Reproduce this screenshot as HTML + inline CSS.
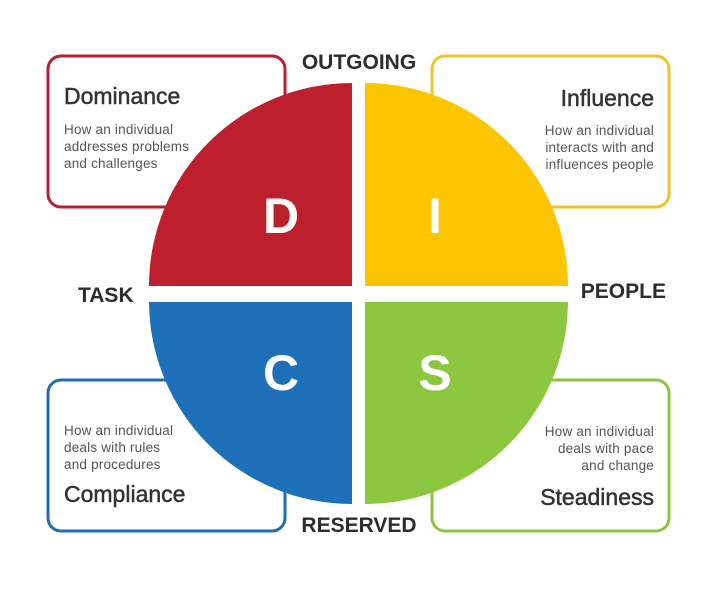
<!DOCTYPE html>
<html><head><meta charset="utf-8"><style>
html,body{margin:0;padding:0;background:#fff;}
svg{display:block;}
text{font-family:"Liberation Sans",sans-serif;}
</style></head><body>
<svg width="720" height="591" viewBox="0 0 720 591">
<rect x="0" y="0" width="720" height="591" fill="#fff"/>
<g fill="none" stroke-width="3">
<rect x="48" y="56" width="237" height="151" rx="13" stroke="#b81f35"/>
<rect x="432" y="56" width="237" height="151" rx="13" stroke="#f2c22a"/>
<rect x="48" y="380" width="237" height="151" rx="13" stroke="#1f6db5"/>
<rect x="432" y="380" width="237" height="151" rx="13" stroke="#8cc53f"/>
</g>
<path d="M352,286 L149,286 A203,203 0 0 1 352,83 Z" fill="#bd1f2d"/>
<path d="M365,286 L365,83 A203,203 0 0 1 568,286 Z" fill="#fdc500"/>
<path d="M352,302 L352,504 A203,203 0 0 1 149,302 Z" fill="#1e70b9"/>
<path d="M365,302 L568,302 A203,203 0 0 1 365,504 Z" fill="#8dc63f"/>
<g fill="#fff" font-weight="bold" font-size="50" text-anchor="middle">
<text x="281" y="233">D</text>
<text x="435" y="233">I</text>
<text x="281" y="390">C</text>
<text x="435" y="390">S</text>
</g>
<g fill="#2d2d2d" font-weight="bold" font-size="21">
<text x="359" y="69" text-anchor="middle">OUTGOING</text>
<text x="359" y="532" text-anchor="middle">RESERVED</text>
<text x="78" y="302">TASK</text>
<text x="666" y="298" text-anchor="end">PEOPLE</text>
</g>
<g fill="#333" font-size="23" stroke="#333" stroke-width="0.5">
<text x="64" y="104">Dominance</text>
<text x="654" y="106" text-anchor="end">Influence</text>
<text x="64" y="502">Compliance</text>
<text x="654" y="505" text-anchor="end">Steadiness</text>
</g>
<g fill="#555" font-size="13.5" letter-spacing="0.2">
<text x="64" y="134">How an individual</text>
<text x="64" y="151">addresses problems</text>
<text x="64" y="168">and challenges</text>
<text x="654" y="135" text-anchor="end">How an individual</text>
<text x="654" y="152" text-anchor="end">interacts with and</text>
<text x="654" y="169" text-anchor="end">influences people</text>
<text x="64" y="435">How an individual</text>
<text x="64" y="452">deals with rules</text>
<text x="64" y="469">and procedures</text>
<text x="654" y="436" text-anchor="end">How an individual</text>
<text x="654" y="453" text-anchor="end">deals with pace</text>
<text x="654" y="470" text-anchor="end">and change</text>
</g>
</svg>
</body></html>
